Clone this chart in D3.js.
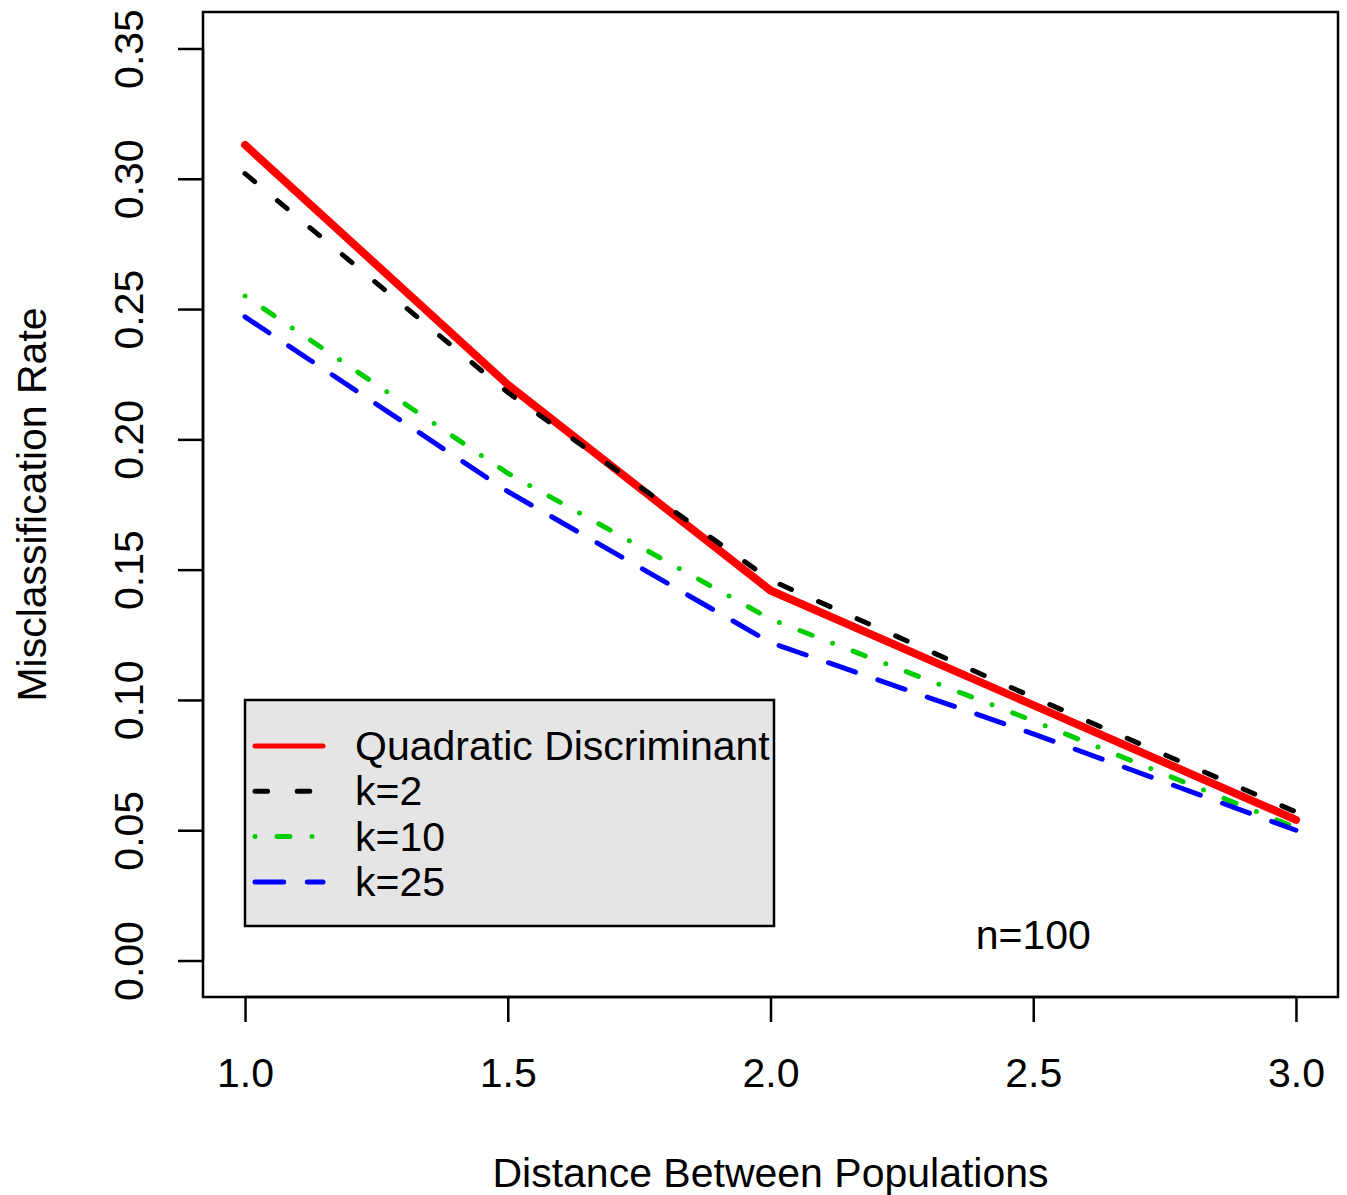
<!DOCTYPE html>
<html>
<head>
<meta charset="utf-8">
<script src="https://cdn.jsdelivr.net/npm/d3@7"></script>
<style>
    html, body { margin: 0; padding: 0; background: #fff; }
    svg text { font-family: "Liberation Sans", Arial, Helvetica, sans-serif; fill: #000; }
</style>
</head>
<body>
<div id="chart"></div>
<script>
// values
var distances = [1.0, 1.5, 2.0, 2.5, 3.0];
var qdaRate = [0.313, 0.221, 0.142, 0.098, 0.054];
var k2Rate = [0.302, 0.218, 0.146, 0.101, 0.057];
var k10Rate = [0.255, 0.187, 0.131, 0.092, 0.051];
var k25Rate = [0.247, 0.180, 0.122, 0.087, 0.050];

var xTicks = [1.0, 1.5, 2.0, 2.5, 3.0];
var yTicks = [0.00, 0.05, 0.10, 0.15, 0.20, 0.25, 0.30, 0.35];
var seriesNames = ['Quadratic Discriminant', 'k=2', 'k=10', 'k=25'];

var config = {
    width: 1347,
    height: 1195,
    box: { left: 203, right: 1338, top: 12, bottom: 997 },
    fontSize: 41,
    tickLength: 25
};

// line styles mimic R's lty 1, 2, 4, 5
var styles = [
    { color: '#ff0000', width: 8, dash: null },
    { color: '#000000', width: 5, dash: '12.6,29.6' },
    { color: '#00cd00', width: 5, dash: '0,22,13,22' },
    { color: '#0000ff', width: 5, dash: '28.7,23.6' }
];

var series = [qdaRate, k2Rate, k10Rate, k25Rate].map(function (values, i) {
    return {
        name: seriesNames[i],
        style: styles[i],
        points: values.map(function (v, j) { return { x: distances[j], y: v }; })
    };
});

var box = config.box;

// R pads the data range by 4% on each side
var x = d3.scaleLinear().domain([0.92, 3.08]).range([box.left, box.right]);
var y = d3.scaleLinear().domain([-0.014, 0.364]).range([box.bottom, box.top]);

var svg = d3.select('#chart')
    .append('svg')
    .attr('width', config.width)
    .attr('height', config.height);

svg.append('rect')
    .attr('width', config.width)
    .attr('height', config.height)
    .attr('fill', '#fff');

// lines
var line = d3.line()
    .x(function (d) { return x(d.x); })
    .y(function (d) { return y(d.y); });

svg.append('g')
    .attr('class', 'lines')
    .selectAll('path')
    .data(series)
    .enter()
    .append('path')
    .attr('d', function (d) { return line(d.points); })
    .attr('fill', 'none')
    .attr('stroke', function (d) { return d.style.color; })
    .attr('stroke-width', function (d) { return d.style.width; })
    .attr('stroke-dasharray', function (d) { return d.style.dash; })
    .attr('stroke-linecap', 'round')
    .attr('stroke-linejoin', 'round');

// x axis
var xAxis = d3.axisBottom(x)
    .tickValues(xTicks)
    .tickSize(config.tickLength)
    .tickFormat(d3.format('.1f'));

svg.append('g')
    .attr('class', 'x axis')
    .attr('transform', 'translate(0,' + box.bottom + ')')
    .call(xAxis)
    .call(function (g) {
        g.select('.domain')
            .attr('d', 'M' + x(xTicks[0]) + ',0H' + x(xTicks[xTicks.length - 1]));
        g.selectAll('text')
            .attr('font-size', config.fontSize)
            .attr('dy', null)
            .attr('y', 90);
    });

// y axis, labels turned like R's las=0
var yAxis = d3.axisLeft(y)
    .tickValues(yTicks)
    .tickSize(config.tickLength)
    .tickFormat(d3.format('.2f'));

svg.append('g')
    .attr('class', 'y axis')
    .attr('transform', 'translate(' + box.left + ',0)')
    .call(yAxis)
    .call(function (g) {
        g.select('.domain')
            .attr('d', 'M0,' + y(yTicks[0]) + 'V' + y(yTicks[yTicks.length - 1]));
        g.selectAll('text')
            .attr('font-size', config.fontSize)
            .attr('x', null)
            .attr('dy', null)
            .attr('text-anchor', 'middle')
            .attr('transform', 'translate(-60,0) rotate(-90)');
    });

svg.selectAll('.axis path, .axis line').attr('stroke-width', 2.5);
svg.selectAll('.axis text').attr('fill', '#000').attr('font-family', null);

// plot frame
svg.append('rect')
    .attr('x', box.left)
    .attr('y', box.top)
    .attr('width', box.right - box.left)
    .attr('height', box.bottom - box.top)
    .attr('fill', 'none')
    .attr('stroke', '#000')
    .attr('stroke-width', 2.5);

// axis titles
svg.append('text')
    .attr('text-anchor', 'middle')
    .attr('font-size', config.fontSize)
    .attr('x', (box.left + box.right) / 2)
    .attr('y', 1187)
    .text('Distance Between Populations');

svg.append('text')
    .attr('text-anchor', 'middle')
    .attr('font-size', config.fontSize)
    .attr('transform', 'translate(46,' + (box.top + box.bottom) / 2 + ') rotate(-90)')
    .text('Misclassification Rate');

// sample size note
svg.append('text')
    .attr('text-anchor', 'middle')
    .attr('font-size', config.fontSize)
    .attr('x', x(2.5))
    .attr('y', 949)
    .text('n=100');

// legend
var legend = svg.append('g')
    .attr('class', 'legend')
    .attr('transform', 'translate(245,700)');

legend.append('rect')
    .attr('width', 529)
    .attr('height', 226)
    .attr('fill', '#e5e5e5')
    .attr('stroke', '#000')
    .attr('stroke-width', 2.5);

var rows = legend.selectAll('.row')
    .data(series)
    .enter()
    .append('g')
    .attr('class', 'row')
    .attr('transform', function (d, i) { return 'translate(0,' + (46 + i * 45.3) + ')'; });

rows.append('line')
    .attr('x1', 10)
    .attr('x2', 78)
    .attr('stroke', function (d) { return d.style.color; })
    .attr('stroke-width', 5)
    .attr('stroke-dasharray', function (d) { return d.style.dash; })
    .attr('stroke-linecap', 'round');

rows.append('text')
    .attr('x', 110)
    .attr('y', 14)
    .attr('font-size', config.fontSize)
    .text(function (d) { return d.name; });
</script>
</body>
</html>
